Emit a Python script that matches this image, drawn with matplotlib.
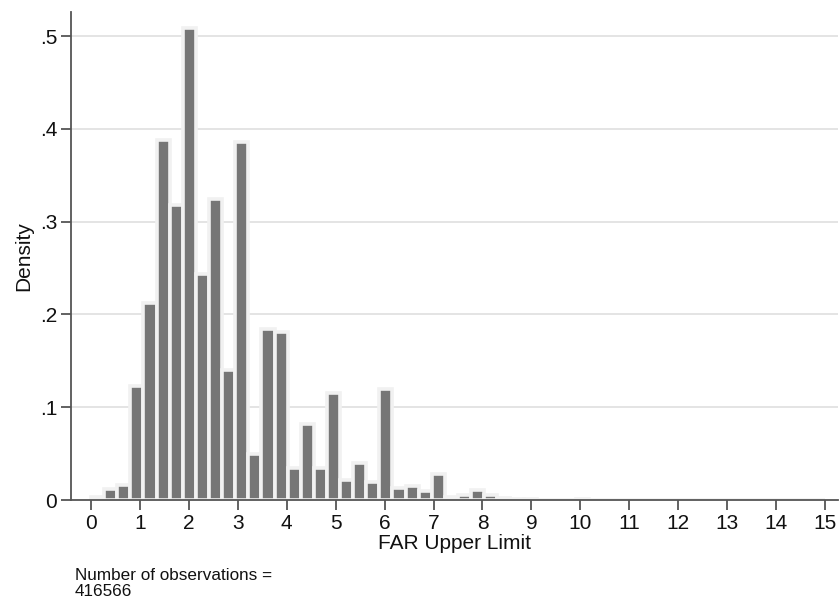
import matplotlib
matplotlib.use("Agg")
import matplotlib.pyplot as plt
import numpy as np

# histogram of FAR upper limit: 56 bins between 0 and 15
x_min, x_max, n_bins = 0.0, 15.0, 56
density = [
    0.003, 0.012, 0.016, 0.123, 0.212, 0.388, 0.318, 0.509,
    0.2435, 0.325, 0.140, 0.386, 0.050, 0.184, 0.181, 0.035,
    0.082, 0.035, 0.115, 0.022, 0.040, 0.019, 0.120, 0.013,
    0.015, 0.010, 0.028, 0.003, 0.005, 0.011, 0.005, 0.002,
    0.001, 0.001, 0.0002, 0.0002, 0.0002, 0.0008, 0.0001, 0.0001,
    0.0001, 0.0, 0.0, 0.0001, 0.0, 0.0, 0.0001, 0.0,
    0.0, 0.0001, 0.0, 0.0, 0.0, 0.0001, 0.0, 0.0004,
]
x_ticks = list(range(0, 16))
y_ticks = [0, 0.1, 0.2, 0.3, 0.4, 0.5]
y_tick_labels = ["0", ".1", ".2", ".3", ".4", ".5"]
n_obs = 416566

plt.rcParams["font.family"] = ["Liberation Sans", "DejaVu Sans"]

edges = np.linspace(x_min, x_max, n_bins + 1)
width = edges[1] - edges[0]

fig = plt.figure(figsize=(8.39, 6.02), dpi=100)
ax = fig.add_axes([0.0846, 0.1694, 0.9144, 0.8106])

ax.bar(edges[:-1], density, width=width, align="edge",
       color="#767676", edgecolor="#f1f1f1", linewidth=2.6, zorder=3)

for y in y_ticks[1:]:
    ax.axhline(y, color="#e2e2e2", linewidth=1.3, zorder=1)

ax.set_xlim(-0.41, 15.27)
ax.set_ylim(0, 0.526)
ax.set_xticks(x_ticks)
ax.set_yticks(y_ticks)
ax.set_yticklabels(y_tick_labels)

for side in ["top", "right"]:
    ax.spines[side].set_visible(False)
for side in ["left", "bottom"]:
    ax.spines[side].set_color("#555555")
    ax.spines[side].set_linewidth(1.3)
    ax.spines[side].set_zorder(4)

ax.tick_params(axis="both", colors="#555555", width=1.3, length=7,
               labelsize=15, labelcolor="#111111")
ax.tick_params(axis="x", pad=3)
ax.tick_params(axis="y", pad=3)

ax.set_xlabel("FAR Upper Limit", fontsize=15, color="#111111", labelpad=1)
ax.set_ylabel("Density", fontsize=15, color="#111111", labelpad=5)

fig.text(0.089, 1 - 568 / 602, f"Number of observations =\n{n_obs}",
         fontsize=12.3, color="#111111", ha="left", va="top", linespacing=1.12)

fig.savefig("out.png", dpi=100, facecolor="white")
